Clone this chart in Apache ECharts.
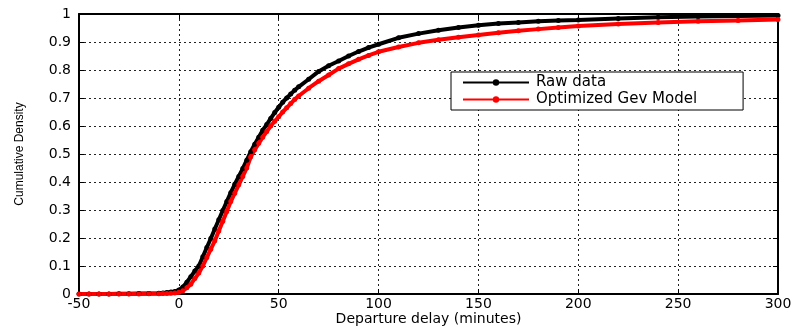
<!DOCTYPE html>
<html>
<head>
<meta charset="utf-8">
<script src="https://cdn.jsdelivr.net/npm/echarts@6/dist/echarts.min.js"></script>
<style>
  html, body { margin: 0; padding: 0; background: #fff; }
  #chart { width: 795px; height: 327px; }
</style>
</head>
<body>
<div id="chart"></div>
<script>
// delay in minutes (sample positions)
const delays = [
  -50, -45, -40, -35, -30, -25, -20, -15, -10, -8, -6, -4, -2,
  0, 2, 4, 6, 8, 10, 12, 14, 16, 18, 20, 22, 24, 26, 28, 30,
  32, 34, 36, 38, 40, 42, 44, 46, 48, 50, 52, 54, 56, 58, 60,
  65, 70, 75, 80, 85, 90, 95, 100,
  110, 120, 130, 140, 150, 160, 170, 180, 190, 200,
  220, 240, 260, 280, 300
];

const rawData = [
  0, 0, 0, 0, 0.001, 0.001, 0.002, 0.002, 0.003, 0.004, 0.005, 0.007, 0.009,
  0.014, 0.025, 0.042, 0.062, 0.082, 0.1, 0.133, 0.166, 0.198, 0.232, 0.265, 0.298, 0.33, 0.362, 0.392, 0.42,
  0.448, 0.478, 0.508, 0.535, 0.56, 0.585, 0.605, 0.627, 0.648, 0.667, 0.685, 0.7, 0.714, 0.728, 0.74,
  0.767, 0.795, 0.815, 0.832, 0.85, 0.866, 0.88, 0.892,
  0.915, 0.93, 0.942, 0.952, 0.96, 0.966, 0.97, 0.974, 0.977, 0.979,
  0.984, 0.988, 0.991, 0.993, 0.995
];

const gevModel = [
  0, 0, 0, 0, 0, 0, 0, 0.001, 0.001, 0.002, 0.002, 0.003, 0.004,
  0.006, 0.012, 0.022, 0.035, 0.055, 0.075, 0.1, 0.13, 0.16, 0.19, 0.225, 0.26, 0.295, 0.33, 0.36, 0.39,
  0.42, 0.45, 0.49, 0.515, 0.538, 0.56, 0.58, 0.6, 0.617, 0.633, 0.65, 0.665, 0.68, 0.695, 0.707,
  0.735, 0.76, 0.782, 0.805, 0.822, 0.838, 0.852, 0.865,
  0.882, 0.897, 0.908, 0.917, 0.925, 0.933, 0.94, 0.946, 0.952, 0.957,
  0.964, 0.97, 0.974, 0.977, 0.98
];

const seriesNames = ["Raw data", "Optimized Gev Model"];

const chart = echarts.init(document.getElementById("chart"));

const font = "DejaVu Sans, Liberation Sans, sans-serif";
const gridLine = { show: true, lineStyle: { color: "#222", type: [2, 3], width: 1 } };
const frameLine = { show: true, onZero: false, lineStyle: { color: "#000", width: 2 } };
const innerTick = { show: true, inside: true, length: 5, lineStyle: { color: "#000" } };

const option = {
  animation: false,
  backgroundColor: "#fff",
  grid: { left: 79, right: 17, top: 14, bottom: 33, outerBoundsMode: "none" },
  legend: {
    orient: "vertical",
    left: 451,
    top: 72,
    padding: [3, 46, 3, 11],
    itemGap: 2,
    itemWidth: 66,
    itemHeight: 8,
    backgroundColor: "#fff",
    borderColor: "#000",
    borderWidth: 1,
    borderRadius: 0,
    textStyle: { fontFamily: font, fontSize: 15, color: "#000", padding: [0, 0, 0, 2] },
    data: seriesNames
  },
  xAxis: [
    {
      type: "value",
      min: -50,
      max: 300,
      interval: 50,
      name: "Departure delay (minutes)",
      nameLocation: "middle",
      nameGap: 18,
      nameMoveOverlap: false,
      nameTextStyle: { fontFamily: font, fontSize: 14, color: "#000" },
      axisLine: frameLine,
      axisTick: innerTick,
      axisLabel: { fontFamily: font, fontSize: 14, color: "#000", margin: 3 },
      splitLine: gridLine
    },
    {
      type: "value",
      position: "top",
      min: -50,
      max: 300,
      interval: 50,
      axisLine: frameLine,
      axisTick: innerTick,
      axisLabel: { show: false },
      splitLine: { show: false }
    }
  ],
  yAxis: [
    {
      type: "value",
      min: 0,
      max: 1,
      interval: 0.1,
      name: "Cumulative Density",
      nameLocation: "middle",
      nameGap: 53,
      nameMoveOverlap: false,
      nameTextStyle: { fontFamily: "Liberation Sans Narrow, Liberation Sans, sans-serif", fontSize: 12, color: "#000" },
      axisLine: frameLine,
      axisTick: innerTick,
      axisLabel: { fontFamily: font, fontSize: 14, color: "#000", margin: 8 },
      splitLine: gridLine
    },
    {
      type: "value",
      position: "right",
      min: 0,
      max: 1,
      interval: 0.1,
      axisLine: frameLine,
      axisTick: innerTick,
      axisLabel: { show: false },
      splitLine: { show: false }
    }
  ],
  series: [
    {
      name: seriesNames[0],
      type: "line",
      data: delays.map((d, i) => [d, rawData[i]]),
      symbol: "circle",
      symbolSize: 5,
      showAllSymbol: true,
      lineStyle: { color: "#000", width: 4 },
      itemStyle: { color: "#000" }
    },
    {
      name: seriesNames[1],
      type: "line",
      data: delays.map((d, i) => [d, gevModel[i]]),
      symbol: "circle",
      symbolSize: 5,
      showAllSymbol: true,
      lineStyle: { color: "#f00", width: 4 },
      itemStyle: { color: "#f00" }
    }
  ]
};

chart.setOption(option);
</script>
</body>
</html>
